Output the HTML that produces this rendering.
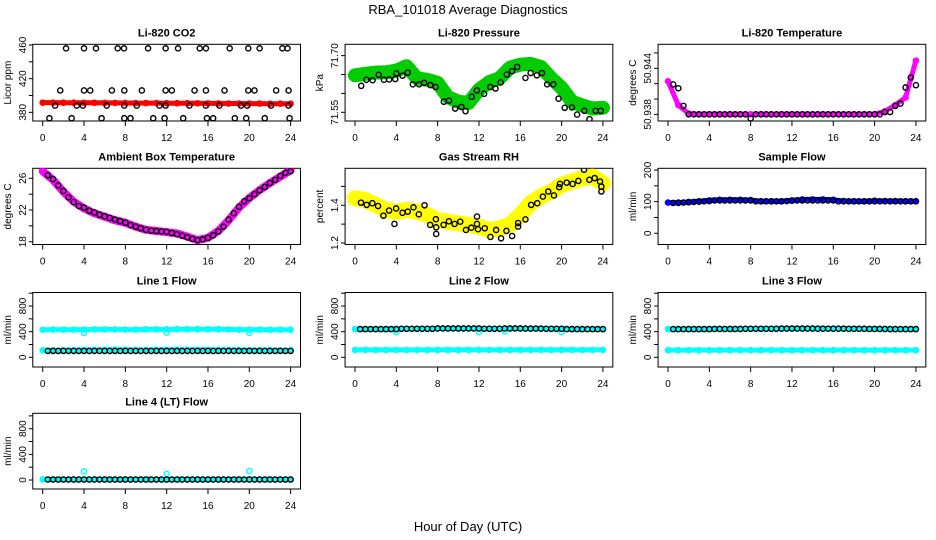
<!DOCTYPE html>
<html><head><meta charset="utf-8"><title>RBA_101018 Average Diagnostics</title>
<style>
html,body{margin:0;padding:0;background:#fff;}
svg{display:block;font-family:"Liberation Sans",Arial,sans-serif;}
</style></head>
<body>
<svg id="chart" width="936" height="540" viewBox="0 0 936 540" xmlns="http://www.w3.org/2000/svg">
<text x="468" y="14" text-anchor="middle" font-size="13">RBA_101018  Average Diagnostics</text>
<text x="468" y="531" text-anchor="middle" font-size="13">Hour of Day (UTC)</text>
</svg>
<script>
// ---------- data ----------
const HOURS=[0,1,2,3,4,5,6,7,8,9,10,11,12,13,14,15,16,17,18,19,20,21,22,23,24];
const HALF=[0.5,1,1.5,2,2.5,3,3.5,4,4.5,5,5.5,6,6.5,7,7.5,8,8.5,9,9.5,10,10.5,11,11.5,12,12.5,13,13.5,14,14.5,15,15.5,16,16.5,17,17.5,18,18.5,19,19.5,20,20.5,21,21.5,22,22.5,23,23.5,24];
const X_TICKS=[0,4,8,12,16,20,24];

// Li-820 CO2
const co2Red=[391.5,391.5,391.4,391.4,391.3,391.3,391.2,391.2,391.1,391.0,391.0,391.0,390.9,390.8,390.8,390.7,390.6,390.6,390.5,390.5,390.4,390.4,390.3,390.3,390.3];
const co2BlackHours=[2.26,4,5.16,7.26,7.87,10.2,11.9,13.1,15.2,15.8,18.1,19.9,21,23.2,23.7,
 1.7,4,4.6,6.7,7.9,9.6,11.9,12.5,14.7,15.8,17.6,19.9,20.5,22.6,23.8,
 1.2,3.3,3.9,6.2,7.9,9.1,11.3,11.9,14.2,15.8,17.1,19.2,19.8,22.1,23.8,
 0.65,2.8,5.7,7.9,8.5,10.7,11.8,13.6,15.9,16.5,18.6,19.7,21.5,23.9];
const co2BlackVals=[456,456,456,456,456,456,456,456,456,456,456,456,456,456,456,
 406,406,406,406,406,406,406,406,406,406,406,406,406,406,406,
 388,388,388,388,388,388,388,388,388,388,388,388,388,388,388,
 373,373,373,373,373,373,373,373,373,373,373,373,373,373];

// Li-820 Pressure
const presGreen=[71.648,71.652,71.655,71.656,71.660,71.672,71.640,71.636,71.628,71.590,71.578,71.575,71.610,71.630,71.640,71.668,71.676,71.678,71.670,71.640,71.615,71.578,71.568,71.560,71.562];
const presBlackHours=[0.6,1.1,1.7,2.3,2.8,3.3,3.9,4.0,4.6,5.1,5.6,6.2,6.7,7.3,7.8,8.6,9.1,9.7,10.3,10.7,11.3,11.8,12.5,13.1,13.6,14.1,14.7,15.2,15.7,16.5,17.0,17.6,18.1,18.6,19.2,19.7,20.3,21.0,21.5,22.2,22.7,23.3,23.8];
const presBlackVals=[71.620,71.636,71.635,71.649,71.636,71.637,71.638,71.653,71.647,71.655,71.624,71.624,71.628,71.622,71.617,71.578,71.581,71.560,71.564,71.553,71.591,71.608,71.599,71.617,71.613,71.629,71.650,71.659,71.670,71.641,71.654,71.648,71.654,71.624,71.624,71.586,71.562,71.563,71.544,71.554,71.532,71.554,71.554];

// Li-820 Temperature
const tempMag=[50.9423,50.9392,50.9381,50.9380,50.9380,50.9380,50.9380,50.9380,50.9380,50.9380,50.9380,50.9380,50.9380,50.9380,50.9380,50.9380,50.9380,50.9380,50.9380,50.9380,50.9380,50.9384,50.9392,50.9402,50.9450];
const tempBlack=[50.9419,50.9414,50.9391,50.9380,50.9380,50.9380,50.9380,50.9380,50.9380,50.9380,50.9380,50.9380,50.9380,50.9380,50.9380,50.93748,50.9380,50.9380,50.9380,50.9380,50.9380,50.9380,50.9380,50.9380,50.9380,50.9380,50.9380,50.9380,50.9380,50.9380,50.9380,50.9380,50.9380,50.9380,50.9380,50.9380,50.9380,50.9380,50.9380,50.9380,50.9380,50.9383,50.9383,50.9391,50.9394,50.9415,50.9428,50.9418];

// Ambient Box Temperature
const ambMag=[26.9,25.8,24.3,23.05,22.2,21.6,21.15,20.7,20.4,19.9,19.5,19.35,19.2,19.05,18.65,18.2,18.5,19.35,20.7,22.3,23.5,24.5,25.4,26.2,27.0];
const ambBlack=[26.4,25.9,25.1,24.4,23.6,23.0,22.5,22.3,21.9,21.7,21.4,21.2,21.0,20.8,20.6,20.4,20.1,19.9,19.7,19.5,19.4,19.35,19.3,19.25,19.1,18.95,18.75,18.55,18.35,18.2,18.3,18.5,18.8,19.3,19.9,20.8,21.6,22.4,23.1,23.5,24.0,24.5,24.9,25.4,25.8,26.3,26.7,26.9];

// Gas Stream RH
const rhYellow=[1.437,1.428,1.402,1.375,1.366,1.375,1.366,1.349,1.322,1.313,1.304,1.296,1.287,1.269,1.278,1.296,1.349,1.411,1.446,1.473,1.508,1.526,1.543,1.552,1.517];
const rhBlackHours=[0.58,1.13,1.68,2.23,2.75,3.30,3.82,3.98,4.60,5.11,5.66,6.18,6.73,7.28,7.83,7.86,7.86,8.58,9.09,9.64,10.19,10.74,11.26,11.81,11.81,11.91,12.56,13.11,13.66,14.14,14.66,15.21,15.79,15.79,16.50,17.05,17.64,18.19,18.71,19.26,19.77,19.84,20.49,21.07,21.62,22.17,22.69,23.20,23.72,23.85,23.85];
const rhBlackVals=[1.414,1.402,1.411,1.396,1.345,1.372,1.301,1.383,1.360,1.366,1.389,1.352,1.400,1.296,1.326,1.283,1.248,1.296,1.315,1.301,1.313,1.269,1.281,1.340,1.301,1.273,1.278,1.232,1.269,1.225,1.264,1.237,1.287,1.306,1.325,1.402,1.411,1.446,1.473,1.452,1.496,1.513,1.520,1.513,1.529,1.588,1.535,1.544,1.526,1.473,1.499];

// Sample Flow
const sampBlue=[97,97,99,101,104,106,106,106,105,101,101,101,104,107,107,107,106,102,101,101,103,102,102,101,101];
const sampBlack=[96,96,97,98,99,100,101,102,104,104,104,104,104,104,104,104,101,101,101,101,101,101,102,103,104,104,104,104,104,104,104,104,101,101,101,101,101,101,101,101,101,101,101,101,101,101,101,101];

// Line 1 Flow
const l1Upper=[430,432,432,432,432,435,435,435,432,432,435,435,435,438,438,438,438,438,435,432,432,432,430,430,430];
const l1Low=[110,110,110,112,115,115,118,118,118,115,115,118,118,118,118,118,118,115,115,112,112,112,112,110,110];
const l1OutHours=[4,12,20];
const l1OutVals=[380,385,382];
const l1Black=[100,100,100,100,100,100,100,100,100,100,100,100,100,100,100,100,100,100,100,100,100,100,100,100,100,100,100,100,100,100,100,100,100,100,100,100,100,100,100,100,100,100,100,100,100,100,100,100];

// Line 2 Flow
const l2Upper=[440,440,440,440,440,445,445,445,448,448,448,448,448,448,448,448,448,445,445,445,442,442,440,440,440];
const l2Low=[115,115,115,115,115,115,115,115,115,115,115,115,115,115,115,115,115,115,115,115,115,115,115,115,115];
const l2OutHours=[4,12,14.5,20];
const l2OutVals=[395,395,405,395];
const l2Black=[440,440,440,440,440,440,440,440,445,445,445,445,445,445,445,450,450,450,450,450,450,450,450,450,445,445,445,445,450,450,450,450,448,448,448,448,445,445,445,445,440,440,440,440,440,440,440,440];

// Line 3 Flow
const l3Upper=[440,440,440,440,442,442,442,442,445,445,445,445,448,448,448,448,446,446,446,444,444,442,442,440,440];
const l3Low=[112,112,112,112,112,112,112,112,112,112,112,112,112,112,112,112,112,112,112,112,112,112,112,112,112];
const l3Black=[440,440,440,440,440,440,440,440,442,442,442,442,442,442,445,445,445,445,445,445,445,448,448,448,448,448,448,448,446,446,446,446,446,446,444,444,444,444,442,442,442,442,440,440,440,440,440,440];

// Line 4 (LT) Flow
const l4Cyan=[10,10,10,10,10,10,10,10,10,10,10,10,10,10,10,10,10,10,10,10,10,10,10,10,10];
const l4OutHours=[4,12,20];
const l4OutVals=[135,95,140];
const l4Black=[8,8,8,8,8,8,8,8,8,8,8,8,8,8,8,8,8,8,8,8,8,8,8,8,8,8,8,8,8,8,8,8,8,8,8,8,8,8,8,8,8,8,8,8,8,8,8,8];

// ---------- drawing ----------
const NS="http://www.w3.org/2000/svg";
const svg=document.getElementById('chart');
const COL_X0=[42.7,355,668];
const PXH=10.33;
const ROW_TOP=[44.3,168.3,292.5,413.3];
const ROW_BOT=[121,244.5,367,489];
function mk(tag,attrs,parent){const e=document.createElementNS(NS,tag);for(const k in attrs)e.setAttribute(k,attrs[k]);(parent||svg).appendChild(e);return e;}

function panel(name,col,row,title,ylab,ymin,ymax,ticks,labels){
  const g=mk('g',{});
  
  
  const x0=COL_X0[col], top=ROW_TOP[row], bot=ROW_BOT[row];
  const left=x0-0.96*PXH, right=x0+24.96*PXH;
  const X=h=>x0+h*PXH;
  const Y=v=>bot-(v-ymin)/(ymax-ymin)*(bot-top);
  const box=mk('rect',{x:left,y:top,width:right-left,height:bot-top,fill:'none',stroke:'#000','stroke-width':1},g);
  
  
  const t=mk('text',{x:(left+right)/2,y:top-8,'text-anchor':'middle','font-size':11,'font-weight':'bold'},g);
  t.textContent=title;
  
  
  // x axis
  const xa=mk('g',{},g);
  
  
  mk('line',{x1:X(0),x2:X(24),y1:bot,y2:bot,stroke:'#000'},xa);
  X_TICKS.forEach(v=>{
    mk('line',{x1:X(v),x2:X(v),y1:bot,y2:bot+5,stroke:'#000'},xa);
    const l=mk('text',{x:X(v),y:bot+20,'text-anchor':'middle','font-size':10},xa);
    l.textContent=v;
    
    
  });
  // y axis
  const ya=mk('g',{},g);
  
  
  ticks.forEach(v=>{
    mk('line',{x1:left-4,x2:left,y1:Y(v),y2:Y(v),stroke:'#000'},ya);
  });
  labels.forEach(v=>{
    const l=mk('text',{x:0,y:0,'text-anchor':'middle','font-size':10,transform:`translate(${left-7},${Y(v)}) rotate(-90)`},ya);
    l.textContent=String(v);
    
    
  });
  const yl=mk('text',{x:0,y:0,'text-anchor':'middle','font-size':10,transform:`translate(${left-22},${(top+bot)/2}) rotate(-90)`},g);
  yl.textContent=ylab;
  
  
  const clipId='clip-'+name;
  const cp=mk('clipPath',{id:clipId},g);
  mk('rect',{x:left,y:top,width:right-left,height:bot-top},cp);
  const data=mk('g',{'clip-path':`url(#${clipId})`},g);
  
  
  return {X,Y,g:data,name};
}
function band(p,hours,vals,color,w,label){
  const pts=hours.map((h,i)=>p.X(h).toFixed(1)+','+p.Y(vals[i]).toFixed(1)).join(' ');
  const pl=mk('polyline',{points:pts,fill:'none',stroke:color,'stroke-width':w,'stroke-linejoin':'round','stroke-linecap':'round'},p.g);
  
  
  points(p,hours,vals,color,label);
}
function points(p,hours,vals,color,label){
  hours.forEach((h,i)=>{
    const c=mk('circle',{cx:p.X(h),cy:p.Y(vals[i]),r:2.6,fill:'none',stroke:color,'stroke-width':1.4},p.g);
    
    
  });
}
const RED='#ff0000',GREEN='#00cc00',MAG='#ff00ff',YEL='#ffff00',BLUE='#0000ff',CYAN='#00ffff',BLK='#000000';

let p;
p=panel('co2',0,0,'Li-820 CO2','Licor ppm',369.7,460.8,[380,400,420,440,460],[380,420,460]);
band(p,HOURS,co2Red,RED,5,'co2-average');
points(p,co2BlackHours,co2BlackVals,BLK,'co2-hourly');

p=panel('pressure',1,0,'Li-820 Pressure','kPa',71.527,71.730,[71.55,71.60,71.65,71.70],['71.55','71.70']);
band(p,HOURS,presGreen,GREEN,14,'pressure-average');
points(p,presBlackHours,presBlackVals,BLK,'pressure-hourly');

p=panel('temperature',2,0,'Li-820 Temperature','degrees C',50.93713,50.94713,[50.938,50.940,50.942,50.944,50.946],['50.938','50.944']);
band(p,HOURS,tempMag,MAG,5,'temperature-average');
points(p,HALF,tempBlack,BLK,'temperature-hourly');

p=panel('ambient',0,1,'Ambient Box Temperature','degrees C',17.65,27.26,[18,20,22,24,26],[18,22,26]);
band(p,HOURS,ambMag,MAG,8,'ambient-average');
points(p,HALF,ambBlack,BLK,'ambient-hourly');

p=panel('rh',1,1,'Gas Stream RH','percent',1.192,1.596,[1.2,1.3,1.4,1.5],['1.2','1.4']);
band(p,HOURS,rhYellow,YEL,16,'rh-average');
points(p,rhBlackHours,rhBlackVals,BLK,'rh-hourly');

p=panel('sample-flow',2,1,'Sample Flow','ml/min',-35.4,205.4,[0,50,100,150,200],[0,100,200]);
band(p,HOURS,sampBlue,BLUE,5,'sample-flow-average');
points(p,HALF,sampBlack,BLK,'sample-flow-hourly');

p=panel('line1-flow',0,2,'Line 1 Flow','ml/min',-151,1011,[0,200,400,600,800,1000],[0,400,800]);
band(p,HOURS,l1Upper,CYAN,5,'line1-upper');
band(p,HOURS,l1Low,CYAN,5,'line1-lower');
points(p,l1OutHours,l1OutVals,CYAN,'line1-outlier');
points(p,HALF,l1Black,BLK,'line1-hourly');

p=panel('line2-flow',1,2,'Line 2 Flow','ml/min',-151,1011,[0,200,400,600,800,1000],[0,400,800]);
band(p,HOURS,l2Upper,CYAN,5,'line2-upper');
band(p,HOURS,l2Low,CYAN,5,'line2-lower');
points(p,l2OutHours,l2OutVals,CYAN,'line2-outlier');
points(p,HALF,l2Black,BLK,'line2-hourly');

p=panel('line3-flow',2,2,'Line 3 Flow','ml/min',-151,1011,[0,200,400,600,800,1000],[0,400,800]);
band(p,HOURS,l3Upper,CYAN,5,'line3-upper');
band(p,HOURS,l3Low,CYAN,5,'line3-lower');
points(p,HALF,l3Black,BLK,'line3-hourly');

p=panel('line4-flow',0,3,'Line 4 (LT) Flow','ml/min',-140,1040,[0,200,400,600,800,1000],[0,400,800]);
band(p,HOURS,l4Cyan,CYAN,5,'line4-average');
points(p,l4OutHours,l4OutVals,CYAN,'line4-outlier');
points(p,HALF,l4Black,BLK,'line4-hourly');
</script>
</body></html>
